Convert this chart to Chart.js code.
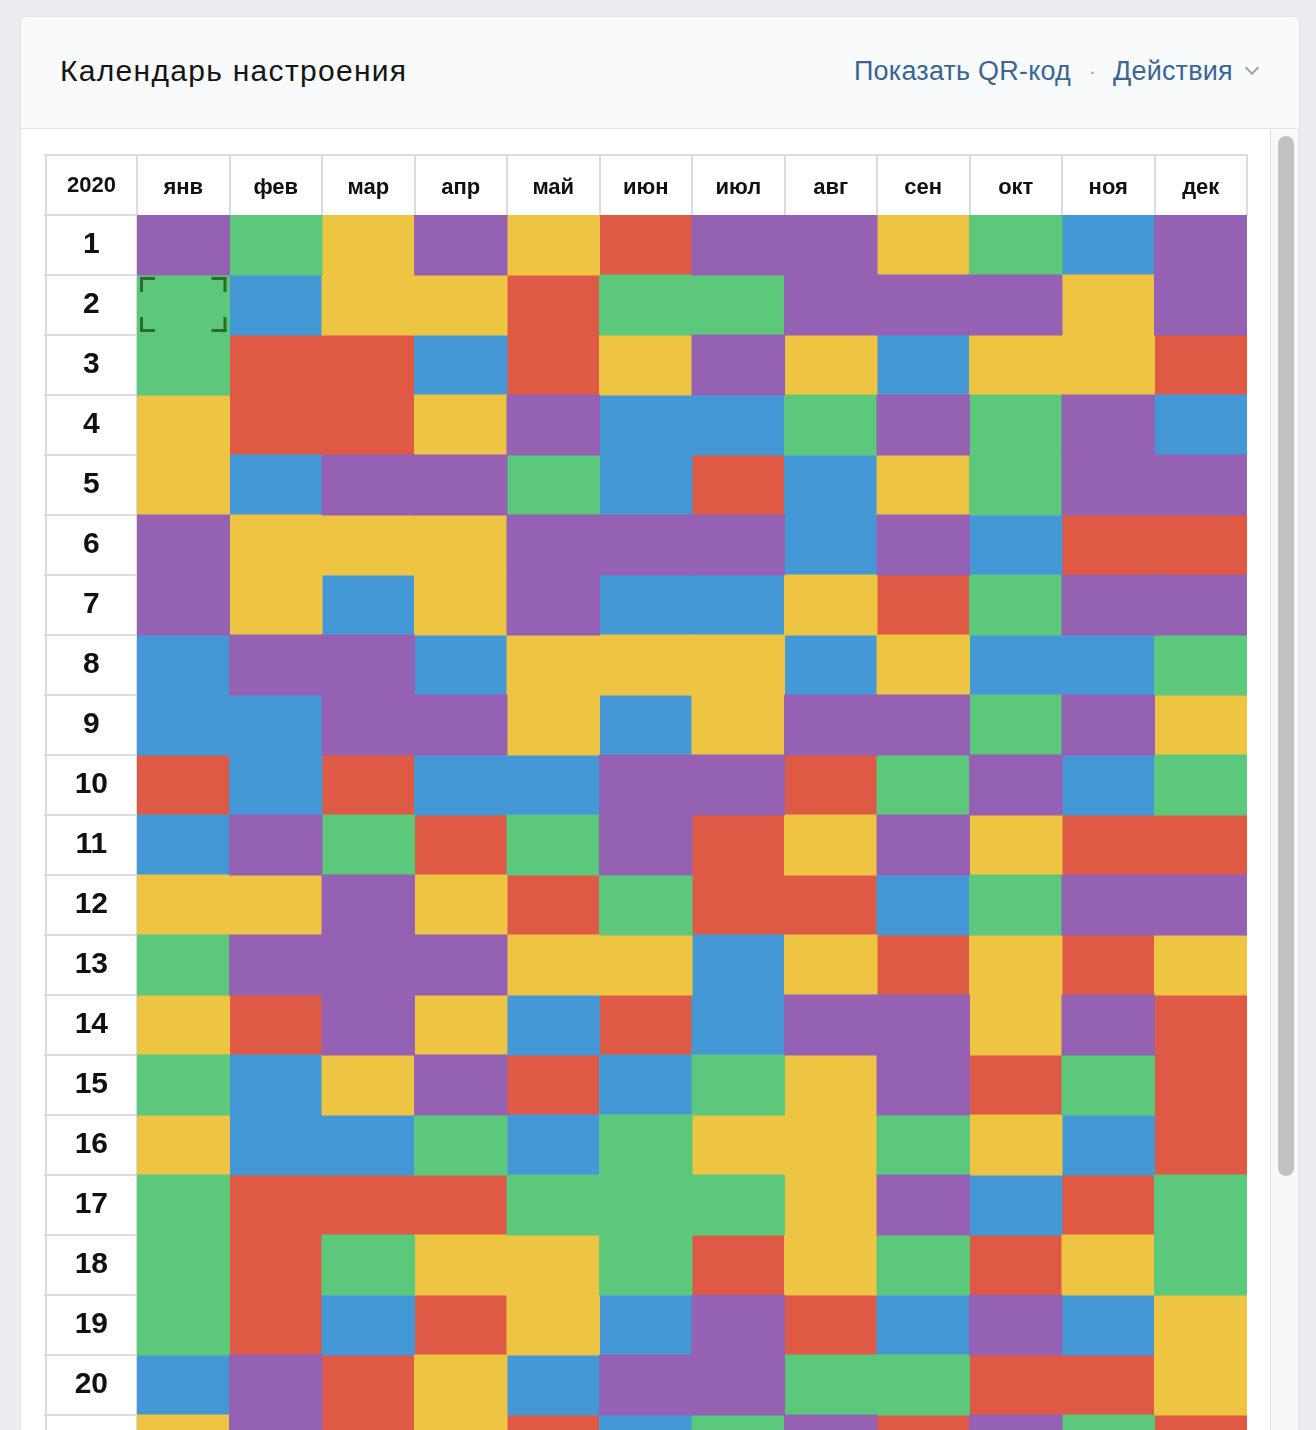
<!DOCTYPE html>
<html lang="ru">
<head>
<meta charset="utf-8">
<title>Календарь настроения</title>
<script src="https://cdn.jsdelivr.net/npm/chart.js@4.4.1/dist/chart.umd.min.js"></script>
<style>
  html, body { margin: 0; padding: 0; }
  body {
    width: 1316px; height: 1430px; overflow: hidden; position: relative;
    background: #ecedf0; font-family: "Liberation Sans", Arial, sans-serif;
  }
  .card {
    position: absolute; left: 20px; top: 16px; width: 1278px; height: 1500px;
    background: #fff; border: 1px solid #e1e2e6; border-radius: 7px; overflow: hidden;
  }
  .card-head {
    position: absolute; left: 0; top: 0; right: 0; height: 111px;
    background: #f9fafc; border-bottom: 1px solid #e3e4e8;
  }
  .title {
    position: absolute; left: 60px; top: 51px; line-height: 40px;
    font-size: 30px; letter-spacing: 1.3px; color: #151515; white-space: nowrap;
  }
  .links {
    position: absolute; left: 854px; top: 51px; line-height: 40px;
    font-size: 27px; letter-spacing: 0.2px; color: #3b6592; white-space: nowrap;
  }
  .links .dot { color: #9aa3ad; margin: 0 17px 0 18px; font-size: 20px; position: relative; top: -2px; }
  .links .chev {
    display: inline-block; width: 8px; height: 8px; margin-left: 14px;
    border-right: 2px solid #9aa3ad; border-bottom: 2px solid #9aa3ad;
    transform: rotate(45deg); position: relative; top: -7px;
  }
  .track {
    position: absolute; left: 1270px; top: 129px; width: 27px; height: 1310px;
    background: #f8f8f8; border-left: 1px solid #e4e4e4; border-right: 1px solid #ececec;
  }
  .thumb {
    position: absolute; left: 1278px; top: 136px; width: 16px; height: 1040px;
    background: #c1c1c1; border-radius: 8px;
  }
  #moodChart { position: absolute; left: 44px; top: 153px; }
</style>
</head>
<body>
<div class="card"><div class="card-head"></div></div>
<div class="title">Календарь настроения</div>
<div class="links">Показать QR-код<span class="dot">·</span>Действия<span class="chev"></span></div>
<div class="track"></div>
<div class="thumb"></div>
<canvas id="moodChart" width="1206" height="1369" style="width:1206px;height:1369px"></canvas>

<script>
const year = "2020";
const months = ["янв", "фев", "мар", "апр", "май", "июн", "июл", "авг", "сен", "окт", "ноя", "дек"];
const days = [1, 2, 3, 4, 5, 6, 7, 8, 9, 10, 11, 12, 13, 14, 15, 16, 17, 18, 19, 20, 21];

// настроение по дням: P фиолетовый, G зелёный, Y жёлтый, B синий, R красный
const jan = ["P","G","G","Y","Y","P","P","B","B","R","B","Y","G","Y","G","Y","G","G","G","B","Y"];
const feb = ["G","B","R","R","B","Y","Y","P","B","B","P","Y","P","R","B","B","R","R","R","P","P"];
const mar = ["Y","Y","R","R","P","Y","B","P","P","R","G","P","P","P","Y","B","R","G","B","R","R"];
const apr = ["P","Y","B","Y","P","Y","Y","B","P","B","R","Y","P","Y","P","G","R","Y","R","Y","Y"];
const may = ["Y","R","R","P","G","P","P","Y","Y","B","G","R","Y","B","R","B","G","Y","Y","B","R"];
const jun = ["R","G","Y","B","B","P","B","Y","B","P","P","G","Y","R","B","G","G","G","B","P","B"];
const jul = ["P","G","P","B","R","P","B","Y","Y","P","R","R","B","B","G","Y","G","R","P","P","G"];
const aug = ["P","P","Y","G","B","B","Y","B","P","R","Y","R","Y","P","Y","Y","Y","Y","R","G","P"];
const sep = ["Y","P","B","P","Y","P","R","Y","P","G","P","B","R","P","P","G","P","G","B","G","R"];
const oct = ["G","P","Y","G","G","B","G","B","G","P","Y","G","Y","Y","R","Y","B","R","P","R","P"];
const nov = ["B","Y","Y","P","P","R","P","B","P","B","R","P","R","P","G","B","R","Y","B","R","G"];
const dec = ["P","P","R","B","P","R","P","G","Y","G","R","P","Y","R","R","R","G","G","Y","Y","R"];

const moodCodes = ["P", "G", "Y", "B", "R"];
const moodColors = ["#9561b2", "#5bc87c", "#eec443", "#4598d6", "#de5a45"];

// выбранная ячейка (янв, 2)
const selectedMonth = 0;
const selectedDay = 2;

const monthData = [jan, feb, mar, apr, may, jun, jul, aug, sep, oct, nov, dec];

const datasets = moodCodes.map((code, k) => {
  const pts = [];
  monthData.forEach((col, m) => {
    col.forEach((v, d) => {
      if (v === code) pts.push({ x: months[m], y: [days[d] - 0.5, days[d] + 0.5] });
    });
  });
  return {
    label: code,
    data: pts,
    backgroundColor: moodColors[k],
    borderWidth: 0,
    grouped: false,
    categoryPercentage: 1,
    barPercentage: 1,
    inflateAmount: 0.5,
  };
});

const lineColor = "#dcdcdc";

// рамка таблицы, подпись года и выделение ячейки
const tableGrid = {
  id: "tableGrid",
  beforeDatasetsDraw(chart) {
    const { ctx, chartArea, scales } = chart;
    const xs = scales.x, ys = scales.y;
    const colW = xs.width / months.length;
    const top = xs.top, left = ys.left;
    ctx.save();
    ctx.fillStyle = lineColor;
    // верх и левый край
    ctx.fillRect(left, top + 1, chartArea.right - left + 1, 2);
    ctx.fillRect(left + 1, top + 1, 2, chartArea.bottom - top);
    // вертикальные линии шапки
    for (let i = 0; i <= months.length; i++) {
      const bx = Math.round(xs.getPixelForValue(0) - colW / 2 + i * colW);
      ctx.fillRect(bx - 1, top + 1, 2, chartArea.top - top);
    }
    // горизонтальные линии колонки дней
    ctx.fillRect(left, chartArea.top - 1, chartArea.left - left, 2);
    days.forEach((d) => {
      const by = Math.round(ys.getPixelForValue(d + 0.5));
      ctx.fillRect(left, by - 1, chartArea.left - left, 2);
    });
    ctx.fillRect(chartArea.left - 1, top + 1, 2, chartArea.bottom - top);
    // год
    ctx.fillStyle = "#111";
    ctx.font = "bold 22px 'Liberation Sans', Arial, sans-serif";
    ctx.textAlign = "center";
    ctx.textBaseline = "middle";
    ctx.fillText(year, (left + chartArea.left) / 2 + 1, (top + chartArea.top) / 2 + 2);
    ctx.restore();
  },
  afterDatasetsDraw(chart) {
    const { ctx, scales } = chart;
    const xs = scales.x, ys = scales.y;
    const colW = xs.width / months.length;
    const cx = xs.getPixelForValue(selectedMonth);
    const x0 = cx - colW / 2 + 3, x1 = cx + colW / 2 - 3;
    const y0 = ys.getPixelForValue(selectedDay - 0.5) + 2, y1 = ys.getPixelForValue(selectedDay + 0.5) - 3;
    const arm = 15, t = 3;
    ctx.save();
    ctx.fillStyle = "#2d6b2f";
    [[x0, y0, 1, 1], [x1, y0, -1, 1], [x0, y1, 1, -1], [x1, y1, -1, -1]].forEach(([px, py, sx, sy]) => {
      ctx.fillRect(sx > 0 ? px : px - arm, sy > 0 ? py : py - t, arm, t);
      ctx.fillRect(sx > 0 ? px : px - t, sy > 0 ? py : py - arm, t, arm);
    });
    ctx.restore();
  },
};

new Chart(document.getElementById("moodChart"), {
  type: "bar",
  data: { labels: months, datasets: datasets },
  options: {
    responsive: false,
    animation: false,
    devicePixelRatio: 1,
    layout: { padding: { top: 0, left: 0, right: 3, bottom: 8 } },
    scales: {
      x: {
        type: "category",
        position: "top",
        offset: true,
        grid: { display: false, drawTicks: false },
        border: { display: false },
        ticks: {
          color: "#111",
          padding: 14,
          maxRotation: 0,
          autoSkip: false,
          font: { size: 22, weight: "bold", family: "'Liberation Sans', Arial, sans-serif" },
        },
        afterFit(scale) { scale.height = 62; },
      },
      y: {
        type: "linear",
        reverse: true,
        min: 0.5,
        max: days[days.length - 1] + 0.5,
        grid: { display: false, drawTicks: false },
        border: { display: false },
        afterBuildTicks(scale) { scale.ticks = days.map((d) => ({ value: d })); },
        ticks: {
          color: "#111",
          crossAlign: "center",
          padding: 29,
          autoSkip: false,
          callback: (v) => String(v),
          font: { size: 30, weight: "bold", family: "'Liberation Sans', Arial, sans-serif" },
        },
        afterFit(scale) { scale.width = 93; },
      },
    },
    plugins: {
      legend: { display: false },
      tooltip: { enabled: false },
    },
  },
  plugins: [tableGrid],
});
</script>
</body>
</html>
